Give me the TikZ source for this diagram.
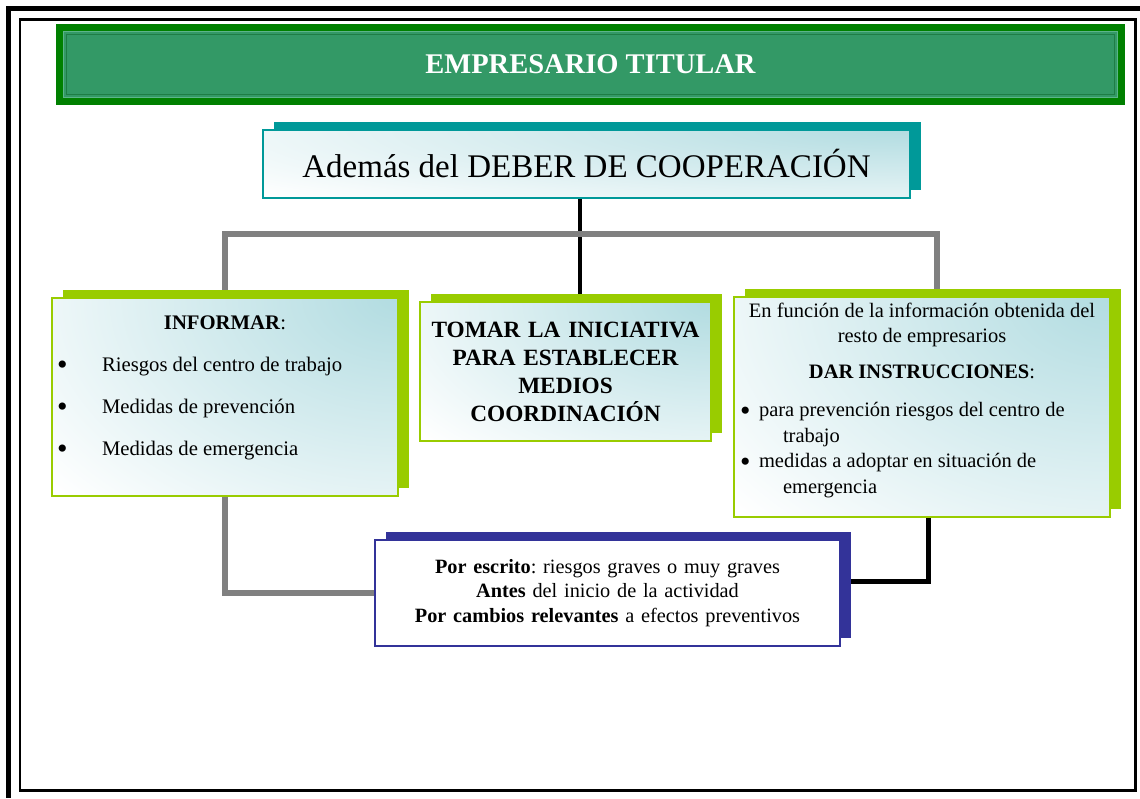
\documentclass[tikz,border=0pt]{standalone}
\usepackage{fontspec}
\setmainfont{Liberation Serif}
\usetikzlibrary{shadows,backgrounds,calc}

\definecolor{hdrouter}{HTML}{008000}
\definecolor{hdrfill}{HTML}{339966}
\definecolor{hdrlight}{HTML}{5CB48A}
\definecolor{hdrdark}{HTML}{1E7D45}
\definecolor{tealc}{HTML}{009999}
\definecolor{limec}{HTML}{99CC00}
\definecolor{navyc}{HTML}{333399}
\definecolor{gradc}{HTML}{B2DCE1}
\definecolor{linegray}{HTML}{808080}

\tikzset{
  plainbox/.style={rectangle, draw=#1, line width=1.5pt, fill=white,
    general shadow={fill=#1, shadow xshift=11pt, shadow yshift=8pt}},
  gradbox/.style={plainbox=#1,
    path picture={\shade[inner color=gradc, outer color=white]
      let \p1=(path picture bounding box.south west), \p2=(path picture bounding box.north east) in
      (\p2) ellipse [x radius={1.3*(\x2-\x1)}, y radius={1.5*(\y2-\y1)}];}},
  header/.style={rectangle, fill=hdrfill, draw=hdrouter, line width=7pt, text=white,
    font=\fontsize{28.5}{34}\selectfont\bfseries,
    path picture={
      \draw[hdrlight, line width=1.5pt] ([shift={(4,4)}]path picture bounding box.north west) rectangle ([shift={(-4,-4)}]path picture bounding box.south east);
      \draw[hdrdark, line width=1.5pt] ([shift={(7,7)}]path picture bounding box.north west) rectangle ([shift={(-7,-7)}]path picture bounding box.south east);}},
  grayline/.style={draw=linegray, line width=6pt},
  blackline/.style={draw=black, line width=5pt}
}
\newcommand{\bulit}[1]{\makebox[#1][l]{\raisebox{-3.5pt}{\scalebox{1.45}{\textbullet}}}}

\begin{document}
\frenchspacing
\begin{tikzpicture}[x=1pt,y=-1pt]
  \useasboundingbox (0,0) rectangle (1140,798);
  \draw[line width=5pt] (6,8.5) -- (1140,8.5);
  \draw[line width=5pt] (8.5,6) -- (8.5,798);
  \draw[line width=2.5pt] (20,19.5) rectangle (1135.5,790.5);

  \node[header, minimum width=1062, minimum height=74] (titular) at (590.5,64.5) {EMPRESARIO TITULAR};

  \node[gradbox=tealc, minimum width=647, minimum height=68, inner sep=0pt,
    font=\fontsize{33}{40}\selectfont] (coop) at (586.5,164) {\raisebox{1.5pt}{Además del DEBER DE COOPERACIÓN}};

  \node[gradbox=limec, inner xsep=5pt, inner ysep=0pt, font=\fontsize{20.7}{42}\selectfont] (informar) at (225,397)
    {\parbox[c][198pt][t]{336pt}{\vspace*{17.3pt}\raggedright
     \makebox[\linewidth]{\textbf{INFORMAR}:}\\
     \bulit{45pt}Riesgos del centro de trabajo\\
     \bulit{45pt}Medidas de prevención\\
     \bulit{45pt}Medidas de emergencia}};

  \node[gradbox=limec, minimum width=291, minimum height=139, inner xsep=5pt, inner ysep=0pt,
    text width=281, align=center, font=\fontsize{23.3}{28}\selectfont\bfseries] (tomar) at (565.5,371.5)
    {TOMAR LA INICIATIVA\\ PARA ESTABLECER\\ MEDIOS\\ COORDINACIÓN};

  \node[gradbox=limec, inner xsep=6pt, inner ysep=0pt, font=\fontsize{20.5}{25.5}\selectfont] (instr) at (922,407)
    {\parbox[c][220pt][t]{364pt}{\vspace*{6pt}\raggedright
     \makebox[\linewidth]{En función de la información obtenida del}\\
     \makebox[\linewidth]{resto de empresarios}\\[10pt]
     \makebox[\linewidth]{\textbf{DAR INSTRUCCIONES}:}\\[13pt]
     \bulit{19pt}para prevención riesgos del centro de\\
     \hspace*{43pt}trabajo\\
     \bulit{19pt}medidas a adoptar en situación de\\
     \hspace*{43pt}emergencia}};

  \node[plainbox=navyc, minimum width=465, minimum height=106, inner sep=0pt,
    text width=455, align=center, font=\fontsize{20.3}{24.5}\selectfont] (escrito) at (607.5,593)
    {\textbf{Por escrito}: riesgos graves o muy graves\\
     \textbf{Antes} del inicio de la actividad\\
     \textbf{Por cambios relevantes} a efectos preventivos};

  \begin{scope}[on background layer]
    \draw[blackline, line width=4.5pt] ([xshift=-6.5pt]coop.south) -- ([xshift=-6.5pt]coop.south |- tomar.north);
    \draw[grayline] (informar.north) -- ++(0,-63) -| ([xshift=15pt]instr.north);
    \draw[grayline] (informar.south) |- (escrito.west);
    \draw[blackline] ([xshift=6pt]instr.south) |- ([yshift=12pt]escrito.east);
  \end{scope}
\end{tikzpicture}
\end{document}
